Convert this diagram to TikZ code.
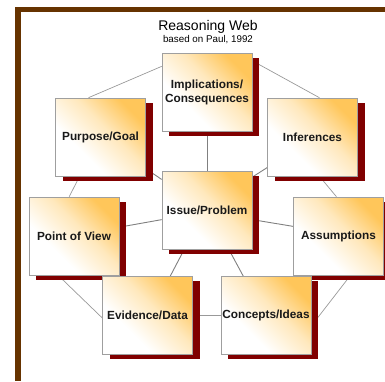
\documentclass[tikz,border=0pt]{standalone}
\usepackage{fontspec}
\setmainfont{Liberation Sans}
\usetikzlibrary{shadows,backgrounds}

\definecolor{framebrown}{RGB}{102,51,0}
\definecolor{shadowred}{RGB}{128,0,0}
\definecolor{glow}{RGB}{255,198,90}
\pgfdeclarehorizontalshading{boxglow}{100bp}{color(0bp)=(white); color(36bp)=(white); color(56bp)=(glow!40); color(74bp)=(glow); color(100bp)=(glow)}

\tikzstyle{webbox}=[draw=gray!75,line width=0.6pt,minimum width=90pt,minimum height=78pt,
  inner sep=1pt,align=center,text=black!90,
  font=\bfseries\fontsize{11.8}{14}\selectfont,
  shading=boxglow,shading angle=45,
  drop shadow={shadow xshift=7pt,shadow yshift=-4.5pt,fill=shadowred,opacity=1}]
\tikzstyle{spoke}=[draw=gray,line width=0.9pt]
\tikzstyle{ring}=[draw=gray!80,line width=0.7pt]

\begin{document}
\begin{tikzpicture}[x=1pt,y=-1pt]
        \useasboundingbox (0,0) rectangle (385,381);
        %% The frame
        \fill[framebrown] (15,7) rectangle (385,12);
        \fill[framebrown] (15,7) rectangle (20.7,381);
        %% Title
        \node[anchor=base,font=\fontsize{14}{16}\selectfont] (title) at (208,30) {Reasoning Web};
        \node[anchor=base,font=\fontsize{9.8}{11}\selectfont] (source) at (208,42.5) {based on Paul, 1992};
        %%% The boxes
        \foreach \name/\x/\y/\txt in {impl/207/92.5/{Implications/\\Consequences},
                purpose/100.5/137/{Purpose/Goal}, infer/312.5/137/{Inferences},
                issue/207/210/{Issue/Problem}, pov/74/236/{Point of View},
                assum/338.5/236/{Assumptions}, evid/147.5/315.5/{Evidence/Data},
                conc/266/315.5/{Concepts/Ideas}}
        \node[webbox] (\name) at (\x,\y) {\txt};

        \begin{scope}[on background layer]
        %%% spokes to the issue
        \foreach \a/\b in {impl.south/issue.north, purpose.325/issue.146, infer.214/issue.36,
                pov.11/issue.192, assum.168/issue.348, evid.60/issue.240, conc.120/issue.299}
        \draw[spoke] (\a) -- (\b);
        %%% outer ring
        \foreach \a/\b in {impl.150/purpose.107, impl.35/infer.80, purpose.242/pov.97,
                infer.280/assum.93, pov.248/evid.183, evid.east/conc.west, assum.287/conc.347}
        \draw[ring] (\a) -- (\b);
        \end{scope}
    \end{tikzpicture}
\end{document}
